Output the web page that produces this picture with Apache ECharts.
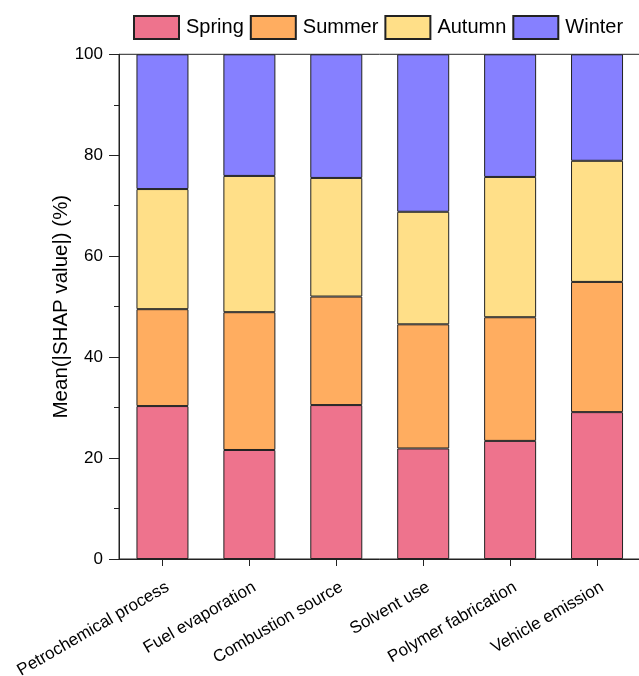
<!DOCTYPE html>
<html>
<head>
<meta charset="utf-8">
<script src="https://cdn.jsdelivr.net/npm/echarts@6/dist/echarts.min.js"></script>
<style>
  html, body { margin: 0; padding: 0; background: #fff; }
  #chart { width: 639px; height: 676px; }
</style>
</head>
<body>
<div id="chart"></div>
<script>
// Emission source categories along the x axis
const categories = [
  'Petrochemical process',
  'Fuel evaporation',
  'Combustion source',
  'Solvent use',
  'Polymer fabrication',
  'Vehicle emission'
];

// Seasonal share of mean |SHAP value| (%) for each source
const spring = [30.3, 21.6, 30.5, 21.9, 23.4, 29.1];
const summer = [19.2, 27.3, 21.5, 24.6, 24.5, 25.8];
const autumn = [23.8, 27.0, 23.5, 22.3, 27.8, 24.0];
const winter = [26.7, 24.1, 24.5, 31.2, 24.3, 21.1];

const seasonNames = ['Spring', 'Summer', 'Autumn', 'Winter'];
const seasonColors = ['#EE738D', '#FFAD60', '#FFDF88', '#8680FF'];
const seasonData = [spring, summer, autumn, winter];

const yTicks = [0, 20, 40, 60, 80, 100];

const FONT = '"Liberation Sans", Arial, sans-serif';

const chart = echarts.init(document.getElementById('chart'), null, { renderer: 'canvas' });

chart.setOption({
  backgroundColor: '#fff',
  animation: false,
  textStyle: { fontFamily: FONT, color: '#000' },
  legend: {
    left: 128,
    top: 10,
    itemWidth: 45,
    itemHeight: 23,
    itemGap: 6,
    icon: 'rect',
    textStyle: { fontSize: 20, color: '#000', fontFamily: FONT, padding: [0, 0, 0, 2] },
    data: seasonNames
  },
  grid: {
    left: 119,
    right: -1.5,
    top: 54.3,
    bottom: 117,
    containLabel: false,
    outerBoundsMode: 'none',
    show: true,
    borderColor: '#222',
    borderWidth: 1,
    backgroundColor: 'transparent'
  },
  xAxis: {
    type: 'category',
    data: categories,
    axisLine: { lineStyle: { color: '#222', width: 1 } },
    axisTick: { show: true, alignWithLabel: true, length: 7, lineStyle: { color: '#222' } },
    axisLabel: {
      rotate: 30,
      fontSize: 17,
      color: '#000',
      fontFamily: FONT,
      margin: 30,
      padding: [0, -6, 0, 0],
      interval: 0
    }
  },
  yAxis: {
    type: 'value',
    min: yTicks[0],
    max: yTicks[yTicks.length - 1],
    interval: 20,
    name: 'Mean(|SHAP value|) (%)',
    nameLocation: 'middle',
    nameGap: 47,
    nameMoveOverlap: false,
    nameTextStyle: { fontSize: 20.5, color: '#000', fontFamily: FONT },
    axisLine: { show: true, lineStyle: { color: '#222', width: 1 } },
    axisTick: { show: true, length: 10, lineStyle: { color: '#222' } },
    minorTick: { show: true, splitNumber: 2, length: 5, lineStyle: { color: '#222' } },
    splitLine: { show: false },
    axisLabel: { fontSize: 17, color: '#000', fontFamily: FONT, margin: 16 }
  },
  series: seasonNames.map((name, i) => ({
    name: name,
    type: 'bar',
    stack: 'season',
    barWidth: 52,
    data: seasonData[i],
    itemStyle: {
      color: seasonColors[i],
      borderColor: '#222',
      borderWidth: 1
    }
  }))
});
</script>
</body>
</html>
